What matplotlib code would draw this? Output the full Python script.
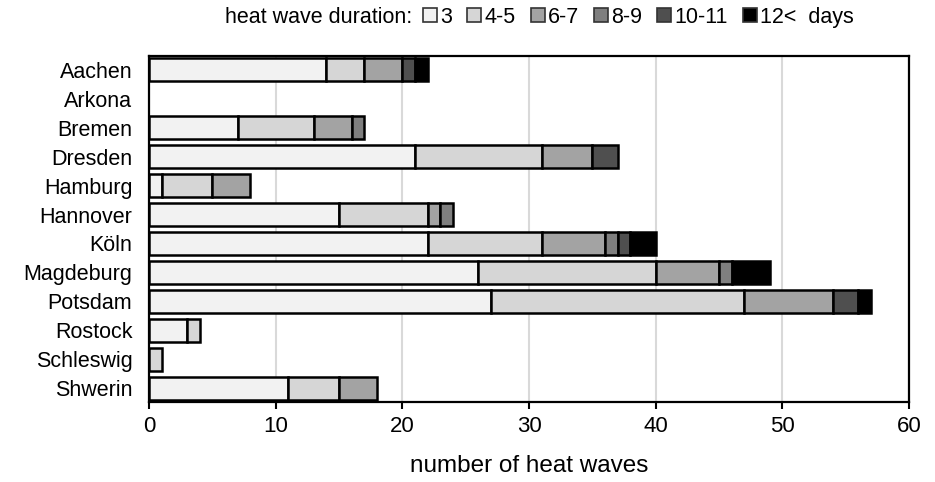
import numpy as np
import matplotlib.pyplot as plt

plt.rcParams['font.family'] = ['Liberation Sans', 'DejaVu Sans']

stations = ["Aachen", "Arkona", "Bremen", "Dresden", "Hamburg", "Hannover",
            "Köln", "Magdeburg", "Potsdam", "Rostock", "Schleswig", "Shwerin"]
durations = ["3", "4-5", "6-7", "8-9", "10-11", "12<"]

# number of heat waves per duration class
d3 = [14, 0, 7, 21, 1, 15, 22, 26, 27, 3, 0, 11]
d45 = [3, 0, 6, 10, 4, 7, 9, 14, 20, 1, 1, 4]
d67 = [3, 0, 3, 4, 3, 1, 5, 5, 7, 0, 0, 3]
d89 = [0, 0, 1, 0, 0, 1, 1, 1, 0, 0, 0, 0]
d1011 = [1, 0, 0, 2, 0, 0, 1, 0, 2, 0, 0, 0]
d12 = [1, 0, 0, 0, 0, 0, 2, 3, 1, 0, 0, 0]

series = [d3, d45, d67, d89, d1011, d12]
colors = ["#f2f2f2", "#d6d6d6", "#a3a3a3", "#7f7f7f", "#4f4f4f", "#000000"]

fig = plt.figure(figsize=(9.35, 4.82), dpi=100)
ax = fig.add_axes([0.1594, 0.1666, 0.8128, 0.7172])

y = np.arange(len(stations))
left = np.zeros(len(stations))
handles = []
for vals, c, lab in zip(series, colors, durations):
    vals = np.array(vals)
    # skip zero-width pieces so they don't leave stray edge lines
    b = ax.barh(y, np.where(vals > 0, vals, np.nan), left=left, height=0.8,
                color=c, edgecolor="black", linewidth=1.8, label=lab, zorder=3)
    handles.append(b)
    left += vals

ax.set_xlim(0, 60)
ax.set_ylim(11.47, -0.48)
ax.set_xticks(np.arange(0, 61, 10))
ax.set_yticks(y)
ax.set_yticklabels(stations)
ax.grid(axis="x", color="#d9d9d9", linewidth=1.5, zorder=0)
ax.tick_params(axis="x", labelsize=16, length=5, width=1.5, pad=5)
ax.tick_params(axis="y", labelsize=15.5, length=0, pad=12)
for s in ax.spines.values():
    s.set_linewidth(1.6)
ax.set_xlabel("number of heat waves", fontsize=17.5, labelpad=13)

labels = durations[:-1] + [durations[-1] + "  days"]
leg = fig.legend(handles, labels, loc="center left", bbox_to_anchor=(0.4524, 0.964),
                 ncol=6, frameon=False, fontsize=15.5, handlelength=0.65,
                 handleheight=0.65, handletextpad=0.15, columnspacing=0.7,
                 borderpad=0, borderaxespad=0)
for h in leg.legend_handles:
    h.set_linewidth(1.2)
    h.set_edgecolor("#333333")
fig.text(0.4406, 0.964, "heat wave duration:", ha="right", va="center", fontsize=15.5)

fig.savefig("out.png", dpi=100)
